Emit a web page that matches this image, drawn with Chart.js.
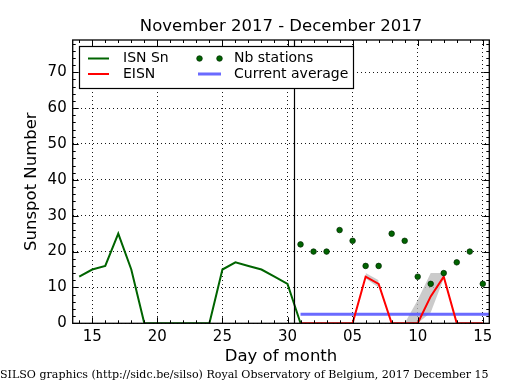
<!DOCTYPE html>
<html>
<head>
<meta charset="utf-8">
<script src="https://cdn.jsdelivr.net/npm/chart.js@4.4.0/dist/chart.umd.min.js"></script>
<style>
  html, body { margin: 0; padding: 0; background: #fff; }
  #wrap { width: 515px; height: 390px; }
</style>
</head>
<body>
<div id="wrap"><canvas id="sunspotChart"></canvas></div>
<script>
// day index on the x axis: 14..30 = November, 31..45 = December 1..15
const isnDays   = [14, 15, 16, 17, 18, 19, 20, 21, 22, 23, 24, 25, 26, 27, 28, 29, 30, 31];
const isnValues = [13, 15, 16, 25, 15, 0, 0, 0, 0, 0, 0, 15, 17, 16, 15, 13, 11, 0];

const decDays    = [31, 32, 33, 34, 35, 36, 37, 38, 39, 40, 41, 42, 43, 44, 45];
const eisnValues = [0, 0, 0, 0, 0, 13, 11, 0, 0, 0, 7.5, 13, 0, 0, 0];
const eisnLow    = [null, null, null, null, null, 12.5, 10, null, 0, 0, 3, 12.5, null, null, null];
const eisnHigh   = [null, null, null, null, null, 14, 12, null, 0, 6.5, 14, 14, null, null, null];
const nbStations = [22, 20, 20, 26, 23, 16, 16, 25, 23, 13, 11, 14, 17, 20, 11];

const avgDays   = [31, 46];
const avgValues = [2.5, 2.5];

const xTickValues = [15, 20, 25, 30, 35, 40, 45];
const xTickLabels = ['15', '20', '25', '30', '05', '10', '15'];
const monthBoundary = 30.5;

const chartTitle = 'November 2017 - December 2017';
const FONT = 'DejaVu Sans';

function pts(xs, ys) {
    return xs.map((x, i) => ({ x: x, y: ys[i] }));
}

// title, frame, inward ticks, month divider, legend and footer (matplotlib look)
const decorations = {
    id: 'decorations',
    afterDraw(chart) {
        const ctx = chart.ctx;
        const a = chart.chartArea;
        const xs = chart.scales.x;
        const ys = chart.scales.y;

        ctx.save();

        // title centred over the plot box
        ctx.fillStyle = '#000';
        ctx.font = '16.5px "' + FONT + '"';
        ctx.textAlign = 'center';
        ctx.textBaseline = 'middle';
        ctx.fillText(chartTitle, (a.left + a.right) / 2, 27);

        // month divider
        const xb = Math.round(xs.getPixelForValue(monthBoundary)) + 0.5;
        ctx.strokeStyle = '#000';
        ctx.lineWidth = 1.2;
        ctx.beginPath();
        ctx.moveTo(xb, a.top);
        ctx.lineTo(xb, a.bottom);
        ctx.stroke();

        // ticks
        ctx.lineWidth = 1;
        ctx.beginPath();
        for (let d = 14; d <= 45; d++) {
            const px = Math.round(xs.getPixelForValue(d)) + 0.5;
            const len = d % 5 === 0 ? 6 : 3;
            ctx.moveTo(px, a.bottom); ctx.lineTo(px, a.bottom - len);
            ctx.moveTo(px, a.top); ctx.lineTo(px, a.top + len);
        }
        for (let v = 0; v <= 78; v += 2) {
            const py = Math.round(ys.getPixelForValue(v)) + 0.5;
            const len = v % 10 === 0 ? 6 : 3;
            ctx.moveTo(a.left, py); ctx.lineTo(a.left + len, py);
            ctx.moveTo(a.right, py); ctx.lineTo(a.right - len, py);
        }
        ctx.stroke();

        // frame
        ctx.lineWidth = 1.3;
        ctx.strokeRect(a.left, a.top, a.right - a.left, a.bottom - a.top);

        // legend
        const lx = 79.5, ly = 46.5, lw = 274, lh = 42;
        ctx.fillStyle = '#fff';
        ctx.fillRect(lx, ly, lw, lh);
        ctx.lineWidth = 1.2;
        ctx.strokeStyle = '#000';
        ctx.strokeRect(lx, ly, lw, lh);

        const r1 = 58.5, r2 = 74;
        ctx.lineWidth = 2;
        ctx.strokeStyle = '#006400';
        ctx.beginPath(); ctx.moveTo(88, r1); ctx.lineTo(109, r1); ctx.stroke();
        ctx.strokeStyle = '#ff0000';
        ctx.beginPath(); ctx.moveTo(88, r2); ctx.lineTo(109, r2); ctx.stroke();
        ctx.lineWidth = 3;
        ctx.strokeStyle = 'rgba(90,90,255,0.9)';
        ctx.beginPath(); ctx.moveTo(198, r2); ctx.lineTo(221, r2); ctx.stroke();
        ctx.fillStyle = '#006400';
        ctx.strokeStyle = '#002800';
        ctx.lineWidth = 0.7;
        [199.5, 219.5].forEach(cx => {
            ctx.beginPath(); ctx.arc(cx, r1, 2.8, 0, Math.PI * 2); ctx.fill(); ctx.stroke();
        });

        ctx.fillStyle = '#000';
        ctx.font = '14px "' + FONT + '"';
        ctx.textBaseline = 'middle';
        ctx.textAlign = 'left';
        ctx.fillText('ISN Sn', 123, r1);
        ctx.fillText('EISN', 123, r2);
        ctx.fillText('Nb stations', 234, r1);
        ctx.fillText('Current average', 234, r2);

        // footer
        const foot = 'SILSO graphics (http://sidc.be/silso) Royal Observatory of Belgium, 2017 December 15';
        ctx.font = '12px "DejaVu Serif"';
        const size = 12 * 489 / ctx.measureText(foot).width;
        ctx.font = size.toFixed(2) + 'px "DejaVu Serif"';
        ctx.fillText(foot, 0, 375);

        ctx.restore();
    }
};

window.onload = function () {
    const ctx = document.getElementById('sunspotChart').getContext('2d');

    new Chart(ctx, {
        type: 'line',
        data: {
            datasets: [
                {
                    label: 'Nb stations',
                    data: pts(decDays, nbStations),
                    showLine: false,
                    pointRadius: 2.8,
                    pointBackgroundColor: '#006400',
                    pointBorderColor: '#002800',
                    pointBorderWidth: 0.7
                },
                {
                    label: 'EISN',
                    data: pts(decDays, eisnValues),
                    borderColor: '#ff0000',
                    borderWidth: 2,
                    pointRadius: 0
                },
                {
                    label: 'ISN Sn',
                    data: pts(isnDays, isnValues),
                    borderColor: '#006400',
                    borderWidth: 2,
                    pointRadius: 0
                },
                {
                    label: 'Current average',
                    data: pts(avgDays, avgValues),
                    borderColor: 'rgba(90,90,255,0.9)',
                    borderWidth: 3,
                    pointRadius: 0,
                    clip: 0
                },
                {
                    label: 'EISN high',
                    data: pts(decDays, eisnHigh),
                    borderWidth: 0,
                    borderColor: 'rgba(0,0,0,0)',
                    backgroundColor: 'rgba(185,185,185,0.75)',
                    pointRadius: 0,
                    spanGaps: false,
                    fill: '+1'
                },
                {
                    label: 'EISN low',
                    data: pts(decDays, eisnLow),
                    borderWidth: 0,
                    borderColor: 'rgba(0,0,0,0)',
                    pointRadius: 0,
                    spanGaps: false,
                    fill: false
                }
            ]
        },
        options: {
            responsive: true,
            maintainAspectRatio: false,
            animation: false,
            events: [],
            layout: { padding: { left: 0, right: 25.7, top: 40, bottom: 0 } },
            plugins: {
                legend: { display: false },
                tooltip: { enabled: false },
                title: { display: false }
            },
            scales: {
                x: {
                    type: 'linear',
                    min: 13.5,
                    max: 45.5,
                    afterFit: s => { s.height = 66.7; },
                    afterBuildTicks: s => { s.ticks = xTickValues.map(v => ({ value: v })); },
                    ticks: {
                        autoSkip: false,
                        maxRotation: 0,
                        padding: 5,
                        color: '#000',
                        font: { family: FONT, size: 15 },
                        callback: (v, i) => xTickLabels[i]
                    },
                    grid: { color: 'rgba(0,0,0,0.9)', lineWidth: 1, drawTicks: false },
                    border: { display: false, dash: [1, 3] },
                    title: {
                        display: true,
                        text: 'Day of month',
                        color: '#000',
                        font: { family: FONT, size: 16.5, lineHeight: 1.2 },
                        padding: { top: 0, bottom: 23 }
                    }
                },
                y: {
                    min: 0,
                    max: 79,
                    afterFit: s => { s.width = 72.7; },
                    ticks: {
                        stepSize: 10,
                        includeBounds: false,
                        padding: 6,
                        color: '#000',
                        font: { family: FONT, size: 15 }
                    },
                    grid: { color: 'rgba(0,0,0,0.9)', lineWidth: 1, drawTicks: false },
                    border: { display: false, dash: [1, 3] },
                    title: {
                        display: true,
                        text: 'Sunspot Number',
                        color: '#000',
                        font: { family: FONT, size: 16.5, lineHeight: 1.2 },
                        padding: { top: 21.5, bottom: 0 }
                    }
                }
            }
        },
        plugins: [decorations]
    });
};
</script>
</body>
</html>
